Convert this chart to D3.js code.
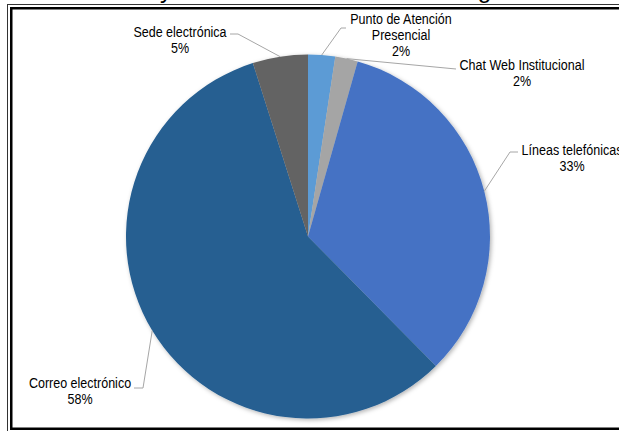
<!DOCTYPE html>
<html>
<head>
<meta charset="utf-8">
<script src="https://cdn.jsdelivr.net/npm/d3@7"></script>
<style>
  html, body { margin: 0; padding: 0; background: #fff; }
  svg { display: block; }
  .lbl { font-family: 'Liberation Sans', Arial, sans-serif; font-size: 15px; fill: #000; }
  .title { font-family: 'Liberation Sans', Arial, sans-serif; fill: #000; }
</style>
</head>
<body>
<svg id="chart" width="619" height="431"></svg>
<script>
// Share of requests by service channel (percent)
const categories = [
  "Punto de Atención Presencial",
  "Chat Web Institucional",
  "Líneas telefónicas",
  "Correo electrónico",
  "Sede electrónica"
];
const shares = [2.4, 2.0, 33.2, 57.5, 4.9];
const labelLines = [
  ["Punto de Atención", "Presencial"],
  ["Chat Web Institucional"],
  ["Líneas telefónicas"],
  ["Correo electrónico"],
  ["Sede electrónica"]
];
const colors = ["#5B9BD5", "#A5A5A5", "#4472C4", "#255E91", "#636363"];
const titleText = "Solicitudes recibidas y atendidas en el trimestre según canal";

const svg = d3.select("#chart");
const cx = 308, cy = 236.5, R = 182;
const lineGap = 16;
const narrow = 0.835;   // horizontal squeeze to give a narrow typeface look

// Label placement: text centre / first baseline, and leader bends (from pie edge outwards)
const labelLayout = [
  { x: 401, y: 24,  bends: [[341, 28], [346, 28]] },
  { x: 522, y: 70,  bends: [[456, 69]] },
  { x: 572, y: 155, bends: [[510, 152], [518, 152]] },
  { x: 80,  y: 388, bends: [[143, 388], [134, 388]] },
  { x: 180, y: 37,  bends: [[238, 34], [230, 34]] }
];

const data = categories.map((c, i) => ({
  name: c, value: shares[i], lines: labelLines[i], color: colors[i], layout: labelLayout[i]
}));

// Title (sits above the framed area)
const title = svg.append("text").attr("class", "title").attr("font-size", 18).attr("y", -2.5).text(titleText);
{
  const node = title.node();
  const iy = titleText.indexOf(" y ") + 1;
  const ig = titleText.indexOf("gún");
  let xy = node.getStartPositionOfChar(iy).x, xg = node.getStartPositionOfChar(ig).x;
  const fs = 18 * (478 - 160) / (xg - xy);
  title.attr("font-size", fs);
  xy = node.getStartPositionOfChar(iy).x;
  title.attr("x", 160 - xy);
}

// Double frame around the chart area
svg.append("rect").attr("x", 7.5).attr("y", 4.5).attr("width", 700).attr("height", 428)
  .attr("fill", "none").attr("stroke", "#333").attr("stroke-width", 1);
svg.append("rect").attr("x", 11.25).attr("y", 8.25).attr("width", 700).attr("height", 420.5)
  .attr("fill", "none").attr("stroke", "#000").attr("stroke-width", 2.5);

// Soft outer shadow for the pie
const defs = svg.append("defs");
const f = defs.append("filter").attr("id", "shadow").attr("x", "-10%").attr("y", "-10%").attr("width", "120%").attr("height", "120%");
f.append("feDropShadow").attr("dx", 1.5).attr("dy", 1.5).attr("stdDeviation", 2.2)
  .attr("flood-color", "#000").attr("flood-opacity", 0.3);

const pie = d3.pie().value(d => d.value).sort(null);
const arcs = pie(data);
const arc = d3.arc().innerRadius(0).outerRadius(R);

const g = svg.append("g").attr("transform", `translate(${cx},${cy})`);
g.append("g").attr("filter", "url(#shadow)")
  .selectAll("path").data(arcs).join("path")
  .attr("d", arc)
  .attr("fill", d => d.data.color);

// Leader lines from the slice edge to each label
const edge = d => {
  const a = (d.startAngle + d.endAngle) / 2;
  return [cx + R * Math.sin(a), cy - R * Math.cos(a)];
};
svg.append("g").selectAll("path").data(arcs).join("path")
  .attr("d", d => d3.line()([edge(d), ...d.data.layout.bends]))
  .attr("fill", "none").attr("stroke", "#a6a6a6").attr("stroke-width", 1);

// Category name and rounded percentage
const labels = svg.append("g").selectAll("text").data(arcs).join("text")
  .attr("class", "lbl")
  .attr("text-anchor", "middle")
  .attr("transform", d => `translate(${d.data.layout.x},${d.data.layout.y}) scale(${narrow},1)`);
labels.each(function(d) {
  const t = d3.select(this);
  const rows = [...d.data.lines, Math.round(d.data.value) + "%"];
  rows.forEach((r, i) => {
    t.append("tspan").attr("x", 0).attr("dy", i === 0 ? 0 : lineGap).text(r);
  });
});
</script>
</body>
</html>
